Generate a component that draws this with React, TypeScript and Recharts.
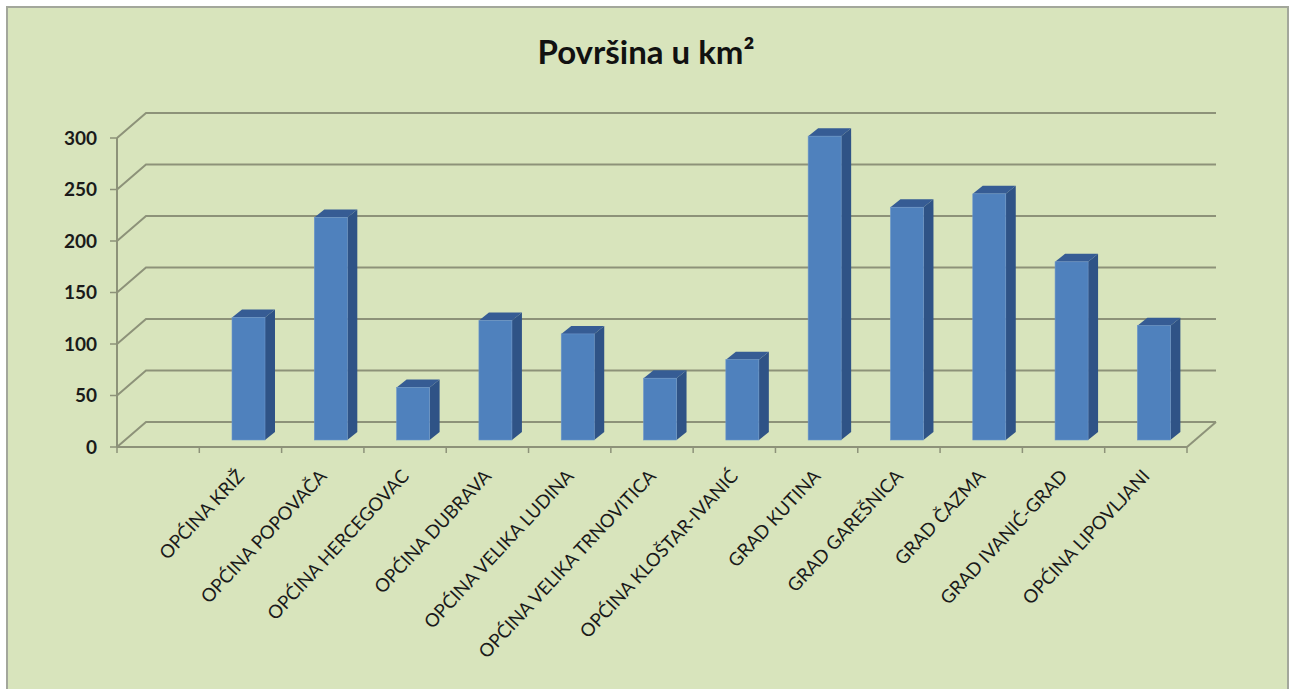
import { BarChart, Bar, XAxis, YAxis, CartesianGrid } from "recharts";

const categories = [
  "",
  "OPĆINA KRIŽ",
  "OPĆINA POPOVAČA",
  "OPĆINA HERCEGOVAC",
  "OPĆINA DUBRAVA",
  "OPĆINA VELIKA LUDINA",
  "OPĆINA VELIKA TRNOVITICA",
  "OPĆINA KLOŠTAR-IVANIĆ",
  "GRAD KUTINA",
  "GRAD GAREŠNICA",
  "GRAD ČAZMA",
  "GRAD IVANIĆ-GRAD",
  "OPĆINA LIPOVLJANI",
];
const areas = [null, 119, 216, 51, 116, 103, 60, 78, 295, 226, 239, 173, 111];
const yTicks = [0, 50, 100, 150, 200, 250, 300];

const data = categories.map((name, i) => ({ name, area: areas[i] }));

const BG = "#d8e4bc";
const GRID = "#8d9279";
const FONT = "Lato, 'Open Sans', sans-serif";

// depth of the 3D box (back wall offset) and of the columns
const WALL_DX = 29;
const WALL_DY = -25;
const BAR_SHIFT_X = 8;
const BAR_SHIFT_Y = -7;
const BAR_DX = 10;
const BAR_DY = -8;

function GridLine(props: any) {
  const { x1, y1, x2, y, height } = props;
  const isFloor = Math.abs(y1 - (y + height)) < 1;
  return (
    <g>
      <path
        d={`M${x1},${y1} L${x1 + WALL_DX},${y1 + WALL_DY} L${x2 + WALL_DX},${y1 + WALL_DY}`}
        fill="none"
        stroke={GRID}
        strokeWidth={2}
      />
      {isFloor && (
        <path
          d={`M${x2},${y1} L${x2 + WALL_DX},${y1 + WALL_DY}`}
          fill="none"
          stroke={GRID}
          strokeWidth={2}
        />
      )}
    </g>
  );
}

function Column3D(props: any) {
  const { x, y, width, height } = props;
  if (!height || height <= 0) return null;
  const fx = x + BAR_SHIFT_X;
  const fy = y + BAR_SHIFT_Y;
  const w = width;
  const h = height;
  return (
    <g>
      <polygon
        points={`${fx + w},${fy} ${fx + w + BAR_DX},${fy + BAR_DY} ${fx + w + BAR_DX},${fy + h + BAR_DY} ${fx + w},${fy + h}`}
        fill="#2f5386"
      />
      <polygon
        points={`${fx},${fy} ${fx + BAR_DX},${fy + BAR_DY} ${fx + w + BAR_DX},${fy + BAR_DY} ${fx + w},${fy}`}
        fill="#365c94"
      />
      <rect x={fx} y={fy} width={w} height={h} fill="#4f81bd" stroke="#6d96cb" strokeWidth={0.6} />
    </g>
  );
}

function CategoryTick(props: any) {
  const { x, y, payload, index } = props;
  const half = payload.offset || 41;
  const last = index === categories.length - 1;
  const lx = x + 5;
  const ly = y + 30;
  return (
    <g>
      <line x1={x - half} y1={y} x2={x - half} y2={y + 6} stroke={GRID} strokeWidth={1.5} />
      {last && <line x1={x + half} y1={y} x2={x + half} y2={y + 6} stroke={GRID} strokeWidth={1.5} />}
      {payload.value && (
        <text
          x={lx}
          y={ly}
          textAnchor="end"
          transform={`rotate(-47, ${lx}, ${ly})`}
          fontFamily={FONT}
          fontSize={18.5}
          fill="#1a1a1a"
        >
          {payload.value}
        </text>
      )}
    </g>
  );
}

export default function App() {
  return (
    <div
      style={{
        position: "absolute",
        left: 0,
        top: 0,
        width: 1291,
        height: 689,
        background: "#fff",
        overflow: "hidden",
      }}
    >
      <div
        style={{
          position: "absolute",
          left: 6,
          top: 6,
          width: 1279,
          height: 700,
          background: BG,
          border: "2px solid #a3a79b",
        }}
      />
      <svg style={{ position: "absolute", left: 0, top: 0 }} width={1291} height={90}>
        <text
          x={646}
          y={64}
          textAnchor="middle"
          fontFamily={FONT}
          fontWeight={700}
          fontSize={33}
          fill="#111"
        >
          Površina u km²
        </text>
      </svg>
      <div style={{ position: "absolute", left: 0, top: 0 }}>
        <BarChart
          width={1291}
          height={689}
          data={data}
          margin={{ top: 138, right: 104, bottom: 42, left: 57 }}
          barCategoryGap="30%"
        >
          <CartesianGrid vertical={false} horizontal={GridLine as any} stroke={GRID} />
          <XAxis
            dataKey="name"
            interval={0}
            height={200}
            tickLine={false}
            tickSize={0}
            tickMargin={0}
            axisLine={{ stroke: GRID, strokeWidth: 2 }}
            tick={CategoryTick as any}
          />
          <YAxis
            width={60}
            domain={[0, 300]}
            ticks={yTicks}
            interval={0}
            tickSize={7}
            tickMargin={13}
            axisLine={{ stroke: GRID, strokeWidth: 2 }}
            tickLine={{ stroke: GRID, strokeWidth: 1.5 }}
            tick={{ fontFamily: FONT, fontSize: 19, fontWeight: 700, fill: "#1a1a1a" }}
          />
          <Bar dataKey="area" isAnimationActive={false} shape={Column3D as any} />
        </BarChart>
      </div>
    </div>
  );
}
